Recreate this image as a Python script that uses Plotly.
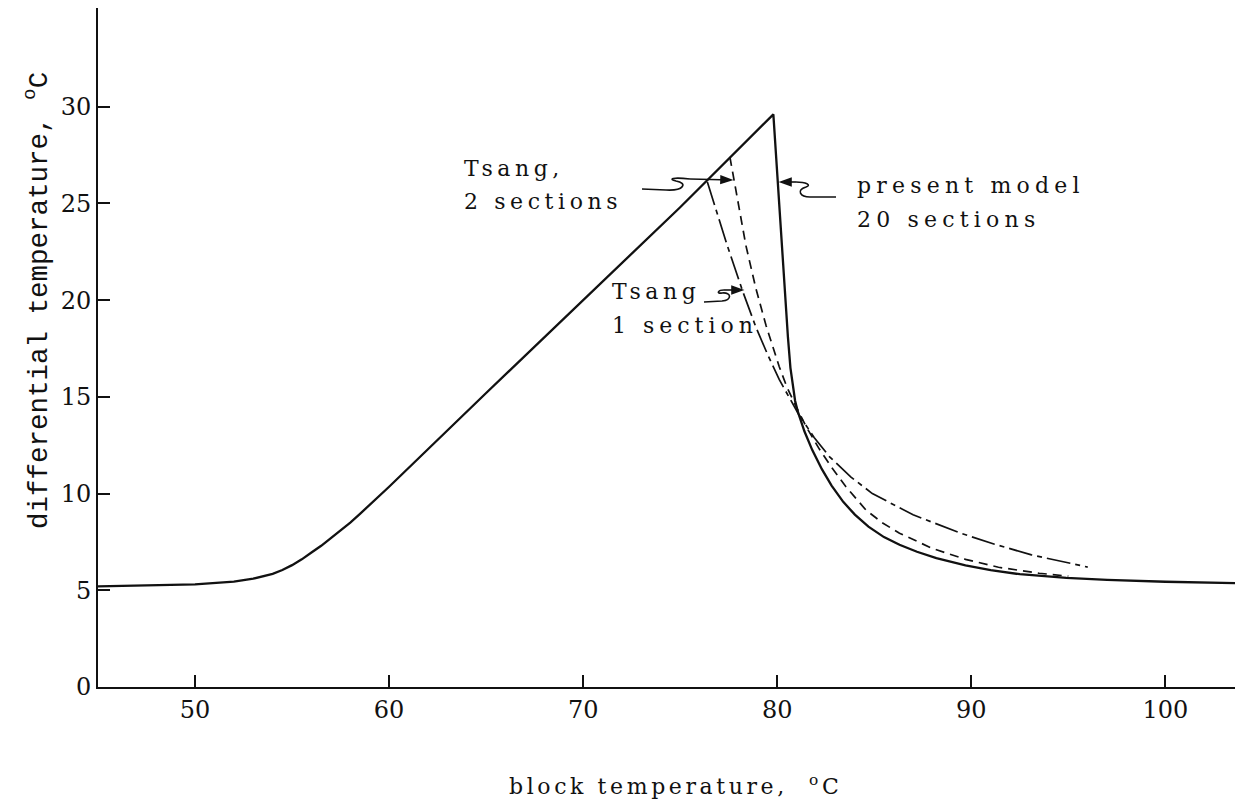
import math
import plotly.graph_objects as go

# ---- data ----
present_x = [45, 48, 50, 52, 53, 54, 54.5, 55, 55.5, 56, 56.5, 57, 57.5, 58, 58.5, 59, 60, 65, 70, 75, 79.8,
             80.0, 80.2, 80.4, 80.55, 80.68, 80.8, 80.92, 81.04, 81.4, 81.8, 82.3, 82.8, 83.4, 84.0,
             84.7, 85.5, 86.3, 87.2, 88.2, 89.7, 91.0, 92.5, 94.9, 97.0, 100, 104]
present_y = [5.2, 5.25, 5.3, 5.45, 5.6, 5.85, 6.05, 6.3, 6.6, 6.95, 7.3, 7.7, 8.1, 8.5, 8.95, 9.4, 10.35, 15.2, 20.0, 24.8, 29.6,
             26.4, 23.3, 20.3, 18.1, 16.5, 15.5, 14.8, 14.3, 13.22, 12.26, 11.26, 10.41, 9.57, 8.91,
             8.29, 7.75, 7.35, 6.99, 6.66, 6.29, 6.04, 5.83, 5.64, 5.54, 5.44, 5.36]

tsang2_x = [77.56, 78.0, 78.39, 78.9, 79.42, 80.1, 80.5, 80.97, 81.5, 82.17, 82.8, 83.54, 84.57, 85.4, 86.3,
            88.0, 89.7, 91.4, 93.5, 95.0]
tsang2_y = [27.4, 25.0, 22.8, 20.6, 18.7, 16.57, 15.5, 14.5, 13.44, 12.3, 11.36, 10.35, 9.15, 8.5, 7.95,
            7.16, 6.6, 6.19, 5.88, 5.73]

tsang1_x = [76.4, 77.4, 78.24, 78.9, 79.5, 80.1, 81.1, 81.9, 82.7, 83.8, 84.9, 87.0, 89.4, 91.2, 93.1, 96.0]
tsang1_y = [26.1, 22.9, 20.4, 18.6, 17.2, 15.9, 14.1, 12.9, 11.9, 10.85, 10.0, 8.9, 7.97, 7.38, 6.83, 6.2]

x_ticks = [50, 60, 70, 80, 90, 100]
y_ticks = [0, 5, 10, 15, 20, 25, 30]

# ---- layout geometry (page has an 8px body margin) ----
OFF = 8
W, H = 1235, 795
ML, MR, MT, MB = 90, 0, 0, 116
XR = [45, 104]
YR = [0, 35.1]
pw, ph = W - ML - MR, H - MT - MB


def px2x(px):
    return XR[0] + (px - OFF - ML) / pw * (XR[1] - XR[0])


def py2y(py):
    return YR[0] + (H - MB - (py - OFF)) / ph * (YR[1] - YR[0])


SERIF = "DejaVu Serif"
MONO = "Liberation Mono"
BLACK = "#111111"

fig = go.Figure()
fig.add_trace(go.Scatter(x=present_x, y=present_y, mode="lines",
                         line=dict(color=BLACK, width=2.3), showlegend=False,
                         name="present model 20 sections"))
fig.add_trace(go.Scatter(x=tsang2_x, y=tsang2_y, mode="lines",
                         line=dict(color=BLACK, width=1.7, dash="9px,6px"),
                         showlegend=False, name="Tsang, 2 sections"))
fig.add_trace(go.Scatter(x=tsang1_x, y=tsang1_y, mode="lines",
                         line=dict(color=BLACK, width=1.7, dash="24px,5px,5px,5px"),
                         showlegend=False, name="Tsang 1 section"))


def spaced(t, s=3):
    return '<span style="letter-spacing:%.1fpx">%s</span>' % (s, t)


def label(px, py, text, size=22, font=SERIF, ls=5):
    fig.add_annotation(x=px2x(px), y=py2y(py), xref="x", yref="y", text=spaced(text, ls),
                       showarrow=False, xanchor="left", yanchor="middle",
                       font=dict(family=font, size=size, color=BLACK))


label(462, 168, "Tsang,", ls=4.5)
label(462, 201, "2 sections", ls=4.6)
label(855, 185, "present model", ls=5.2)
label(855, 219, "20 sections", ls=5.2)
label(610, 291, "Tsang", ls=4.5)
label(610, 325, "1 section", ls=5)


# squiggly leader lines (drawn as shapes in reference pixel positions)
def path_px(pts, fill=False):
    d = "M %f,%f" % (px2x(pts[0][0]), py2y(pts[0][1]))
    for p in pts[1:]:
        if len(p) == 6:
            d += " C %f,%f %f,%f %f,%f" % (px2x(p[0]), py2y(p[1]), px2x(p[2]), py2y(p[3]),
                                          px2x(p[4]), py2y(p[5]))
        else:
            d += " L %f,%f" % (px2x(p[0]), py2y(p[1]))
    if fill:
        d += " Z"
    fig.add_shape(type="path", path=d, xref="x", yref="y",
                  line=dict(color=BLACK, width=1.6),
                  fillcolor=BLACK if fill else None)


def arrow(x0, y0, x1, y1, L=10, hw=3.5):
    dx, dy = x1 - x0, y1 - y0
    n = math.hypot(dx, dy)
    ux, uy = dx / n, dy / n
    bx, by = x1 - ux * L, y1 - uy * L
    path_px([(x0, y0), (bx, by)])
    path_px([(x1, y1), (bx - uy * hw, by + ux * hw), (bx + uy * hw, by - ux * hw)], fill=True)


# Tsang, 2 sections
path_px([(642, 189), (666, 190), (684, 191, 688, 183, 676, 181), (668, 179, 672, 177, 690, 179)])
arrow(690, 179, 731, 180)
# present model
path_px([(836, 197), (810, 197), (800, 197, 796, 190, 806, 187), (812, 185, 806, 182, 796, 182)])
arrow(796, 182, 781, 182)
# Tsang 1 section
path_px([(704, 302), (722, 301), (732, 300, 732, 292, 722, 293), (716, 294, 718, 290, 724, 290)])
arrow(724, 290, 742, 290)

# axis titles
fig.add_annotation(xref="paper", yref="paper", x=(675 - OFF - ML) / pw, y=py2y(785) / YR[1],
                   text=spaced("block temperature,  <sup>o</sup>C", 3.6), showarrow=False,
                   xanchor="center", yanchor="middle",
                   font=dict(family=SERIF, size=22, color=BLACK))
fig.add_annotation(xref="paper", yref="paper", x=(37 - OFF - ML) / pw, y=py2y(301) / YR[1],
                   text="differential temperature, <sup>o</sup>C", showarrow=False,
                   textangle=-90, xanchor="center", yanchor="middle",
                   font=dict(family=MONO, size=27.5, color=BLACK))

fig.update_xaxes(range=XR, tickvals=x_ticks, ticktext=[str(v) for v in x_ticks],
                 ticks="inside", ticklen=12, tickwidth=1.6, tickcolor=BLACK,
                 showline=True, linecolor=BLACK, linewidth=2, showgrid=False,
                 zeroline=False, ticklabelstandoff=0,
                 tickfont=dict(family=SERIF, size=24, color=BLACK))
fig.update_yaxes(range=YR, tickvals=y_ticks, ticktext=[str(v) for v in y_ticks],
                 ticks="inside", ticklen=12, tickwidth=1.6, tickcolor=BLACK,
                 showline=True, linecolor=BLACK, linewidth=2, showgrid=False,
                 zeroline=False, ticklabelstandoff=0,
                 tickfont=dict(family=SERIF, size=24, color=BLACK))

fig.update_layout(width=W, height=H, margin=dict(l=ML, r=MR, t=MT, b=MB),
                  plot_bgcolor="white", paper_bgcolor="white", showlegend=False)

fig.write_html("out.html")
